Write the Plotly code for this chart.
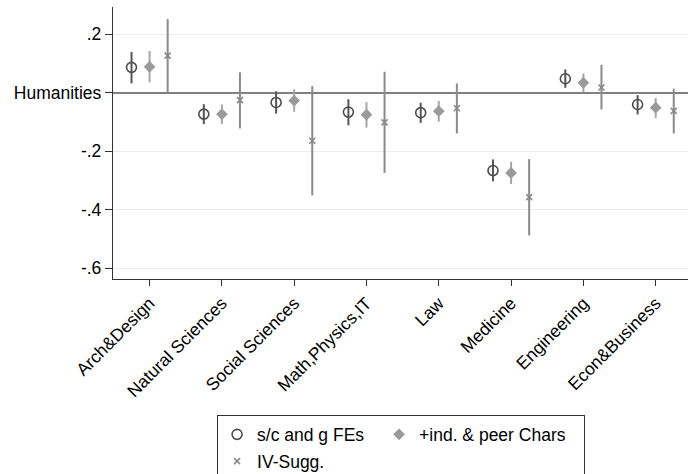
import plotly.graph_objects as go

categories = ["Arch&Design", "Natural Sciences", "Social Sciences", "Math,Physics,IT",
              "Law", "Medicine", "Engineering", "Econ&Business"]

fe_est = [0.087, -0.073, -0.033, -0.066, -0.068, -0.266, 0.048, -0.040]
fe_lo = [0.032, -0.107, -0.071, -0.111, -0.103, -0.303, 0.017, -0.074]
fe_hi = [0.140, -0.039, 0.005, -0.022, -0.034, -0.228, 0.080, -0.008]

chars_est = [0.089, -0.073, -0.027, -0.075, -0.063, -0.274, 0.034, -0.051]
chars_lo = [0.036, -0.107, -0.065, -0.119, -0.099, -0.312, 0.002, -0.086]
chars_hi = [0.143, -0.040, 0.012, -0.032, -0.028, -0.236, 0.066, -0.018]

iv_est = [0.127, -0.025, -0.164, -0.101, -0.053, -0.357, 0.018, -0.062]
iv_lo = [0.000, -0.122, -0.351, -0.274, -0.139, -0.488, -0.057, -0.139]
iv_hi = [0.252, 0.070, 0.023, 0.072, 0.032, -0.227, 0.096, 0.014]

y_tickvals = [0.2, 0.0, -0.2, -0.4, -0.6]
y_ticktext = [".2", "Humanities", "-.2", "-.4", "-.6"]

FONT = "Liberation Sans, Arial, Helvetica, sans-serif"
FS = 17.5

pos = list(range(1, len(categories) + 1))


def err(est, lo, hi, color):
    return dict(type="data", symmetric=False,
                array=[h - e for e, h in zip(est, hi)],
                arrayminus=[e - l for e, l in zip(est, lo)],
                color=color, thickness=2, width=0)


fig = go.Figure()
fig.add_trace(go.Scatter(
    x=[p - 0.25 for p in pos], y=fe_est, mode="markers", name="s/c and g FEs",
    legendgroup="a", legendwidth=117,
    marker=dict(symbol="circle-open", size=10, color="#4d4d4d", line=dict(width=1.6, color="#4d4d4d")),
    error_y=err(fe_est, fe_lo, fe_hi, "#555555"),
))
fig.add_trace(go.Scatter(
    x=pos, y=chars_est, mode="markers", name="+ind. & peer Chars",
    legendgroup="b", legendwidth=160,
    marker=dict(symbol="diamond", size=9, color="#9a9a9a"),
    error_y=err(chars_est, chars_lo, chars_hi, "#a6a6a6"),
))
fig.add_trace(go.Scatter(
    x=[p + 0.25 for p in pos], y=iv_est, mode="markers", name="IV-Sugg.",
    legendgroup="c", legendwidth=200,
    marker=dict(symbol="x-thin", size=6, color="#888888", line=dict(width=1.6, color="#888888")),
    error_y=err(iv_est, iv_lo, iv_hi, "#8a8a8a"),
))

fig.update_layout(
    width=688, height=474,
    margin=dict(l=113, r=0, t=7, b=195, autoexpand=False),
    paper_bgcolor="white", plot_bgcolor="white",
    font=dict(family=FONT, size=FS, color="black"),
    showlegend=True,
    legend=dict(orientation="h", traceorder="grouped", tracegroupgap=1,
                x=0.181, xanchor="left", y=-0.5017, yanchor="top",
                bordercolor="#333333", borderwidth=1,
                font=dict(family=FONT, size=FS, color="black"), bgcolor="white"),
    xaxis=dict(range=[0.494, 8.447], tickvals=pos, ticktext=categories, tickangle=-45,
               showgrid=False, zeroline=False, showline=True, linecolor="#333333", linewidth=1.3,
               ticks="outside", ticklen=6, tickcolor="#333333", tickwidth=1.2, automargin=False),
    yaxis=dict(range=[-0.637, 0.2935], tickvals=y_tickvals, ticktext=y_ticktext,
               showgrid=True, gridcolor="#ebebeb", gridwidth=1,
               zeroline=True, zerolinecolor="#808080", zerolinewidth=2,
               showline=True, linecolor="#333333", linewidth=1.3,
               ticks="outside", ticklen=7, tickcolor="#333333", tickwidth=1.2, automargin=False),
)

fig.write_html("out.html", config={"displayModeBar": False},
               post_script="document.body.style.margin='0';document.body.style.overflow='hidden';")
